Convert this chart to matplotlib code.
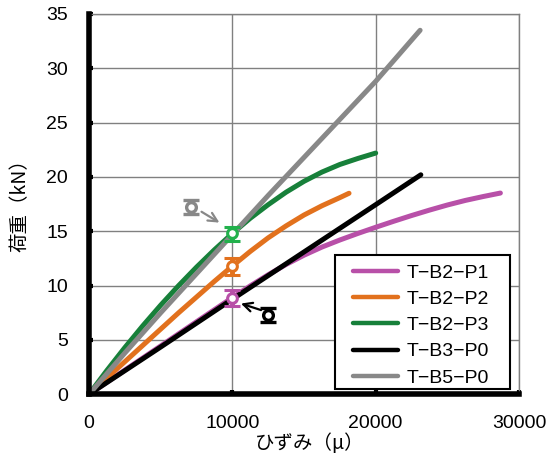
import numpy as np
import matplotlib
matplotlib.use("Agg")
import matplotlib.pyplot as plt
from matplotlib.patches import Rectangle

# strain (micro) vs load (kN)
labels = ["T−B2−P1", "T−B2−P2", "T−B2−P3", "T−B3−P0", "T−B5−P0"]
colors = ["#B850A8", "#E2711D", "#17803A", "#000000", "#888888"]

p1_x = [0, 2500, 5000, 7500, 10000, 11250, 12500, 13750, 15000, 16250, 17500,
        18750, 20000, 21250, 22500, 23750, 25000, 26250, 27500, 28700]
p1_y = [0, 2.23, 4.45, 6.68, 8.9, 9.98, 11.0, 11.95, 12.8, 13.55, 14.2,
        14.8, 15.37, 15.92, 16.45, 16.95, 17.42, 17.84, 18.2, 18.52]

p2_x = [0, 2500, 5000, 6250, 7500, 8750, 10000, 11250, 12500, 13750, 15000,
        16250, 17500, 18140]
p2_y = [0, 3.0, 6.0, 7.5, 8.95, 10.4, 11.8, 13.15, 14.4, 15.5, 16.5,
        17.35, 18.1, 18.5]

p3_x = [0, 1250, 2500, 3750, 5000, 6250, 7500, 8750, 10000, 11250, 12500,
        13750, 15000, 16250, 17500, 18750, 20000]
p3_y = [0, 2.2, 4.3, 6.3, 8.2, 10.0, 11.7, 13.3, 14.8, 16.2, 17.45,
        18.6, 19.6, 20.45, 21.15, 21.7, 22.2]

b3_x = [0, 5000, 10000, 15000, 20000, 23150]
b3_y = [0, 4.35, 8.75, 13.1, 17.45, 20.2]

b5_x = [0, 2500, 5000, 7500, 10000, 12500, 15000, 17500, 20000, 23100]
b5_y = [0, 3.8, 7.5, 11.1, 14.7, 18.3, 21.8, 25.3, 28.8, 33.5]

# mean value with scatter at 10000 micro
mark_x = [10000, 10000, 10000]
mark_y = [8.9, 11.8, 14.8]
mark_lo = [0.8, 0.8, 0.7]
mark_hi = [0.7, 0.7, 0.6]
mark_colors = ["#B850A8", "#E2711D", "#22B14C"]

# small legend-like icons with arrows
icon_x = [7100, 12500]
icon_y = [17.25, 7.3]
icon_colors = ["#888888", "#000000"]
arrow_from = [(7850, 16.8), (12000, 7.75)]
arrow_to = [(9100, 15.8), (10600, 8.35)]

fig = plt.figure(figsize=(5.57, 4.54), dpi=100)
ax = fig.add_axes([0.1598, 0.1315, 0.772, 0.8377])

series = [(p1_x, p1_y), (p2_x, p2_y), (p3_x, p3_y), (b3_x, b3_y), (b5_x, b5_y)]
for (xs, ys), c, lab in zip(series, colors, labels):
    ax.plot(xs, ys, color=c, lw=3.6, label=lab, solid_capstyle="round",
            solid_joinstyle="round", zorder=3)

for x, y, lo, hi, c in zip(mark_x, mark_y, mark_lo, mark_hi, mark_colors):
    ax.errorbar([x], [y], yerr=[[lo], [hi]], fmt="o", color=c, mfc="white",
                mec=c, mew=2.2, ms=7, elinewidth=3.5, capsize=5.5, capthick=3,
                zorder=5)

for x, y, c in zip(icon_x, icon_y, icon_colors):
    ax.errorbar([x], [y], yerr=0.65, fmt="o", color=c, mfc="white", mec=c,
                mew=2.4, ms=7, elinewidth=4, capsize=5.5, capthick=3.2, zorder=5)

for (x0, y0), (x1, y1), c in zip(arrow_from, arrow_to, icon_colors):
    ax.annotate("", xy=(x1, y1), xytext=(x0, y0),
                arrowprops=dict(arrowstyle="->", color=c, lw=1.6,
                                mutation_scale=16, shrinkA=0, shrinkB=0),
                zorder=6)

ax.set_xlim(0, 30000)
ax.set_ylim(0, 35)
ax.set_xticks([0, 10000, 20000, 30000])
ax.set_yticks(np.arange(0, 36, 5))
ax.grid(True, color="#808080", lw=1.0)
ax.set_axisbelow(True)

for s in ["left", "bottom"]:
    ax.spines[s].set_linewidth(4)
    ax.spines[s].set_color("black")
    ax.spines[s].set_zorder(4)
for s in ["top", "right"]:
    ax.spines[s].set_linewidth(1.0)
    ax.spines[s].set_color("#808080")

ax.tick_params(direction="in", length=3, width=3, color="black", labelsize=14,
               pad=15)
for lab in ax.get_xticklabels() + ax.get_yticklabels():
    lab.set_fontfamily("Liberation Sans")

cjk = ["Noto Sans CJK JP", "DejaVu Sans"]
ax.set_xlabel("ひずみ（μ）", fontsize=14, family=cjk)
ax.set_ylabel("荷重（kN）", fontsize=14, family=cjk)
ax.xaxis.set_label_coords(0.514, -0.102)
ax.yaxis.set_label_coords(-0.135, 0.51)

# legend frame drawn separately so the padding matches the original box
ax.add_patch(Rectangle((0.572, 0.013), 0.407, 0.353, transform=ax.transAxes,
                       facecolor="white", edgecolor="black", lw=1.5, zorder=7))
leg = ax.legend(loc="upper left", bbox_to_anchor=(0.613, 0.342),
                borderaxespad=0, borderpad=0, frameon=False,
                prop={"family": "Liberation Sans", "size": 14},
                handlelength=2.35, handletextpad=0.45, labelspacing=0.44)
for h in leg.get_lines():
    h.set_linewidth(3.2)
leg.set_zorder(8)

fig.savefig("out.png", dpi=100)
